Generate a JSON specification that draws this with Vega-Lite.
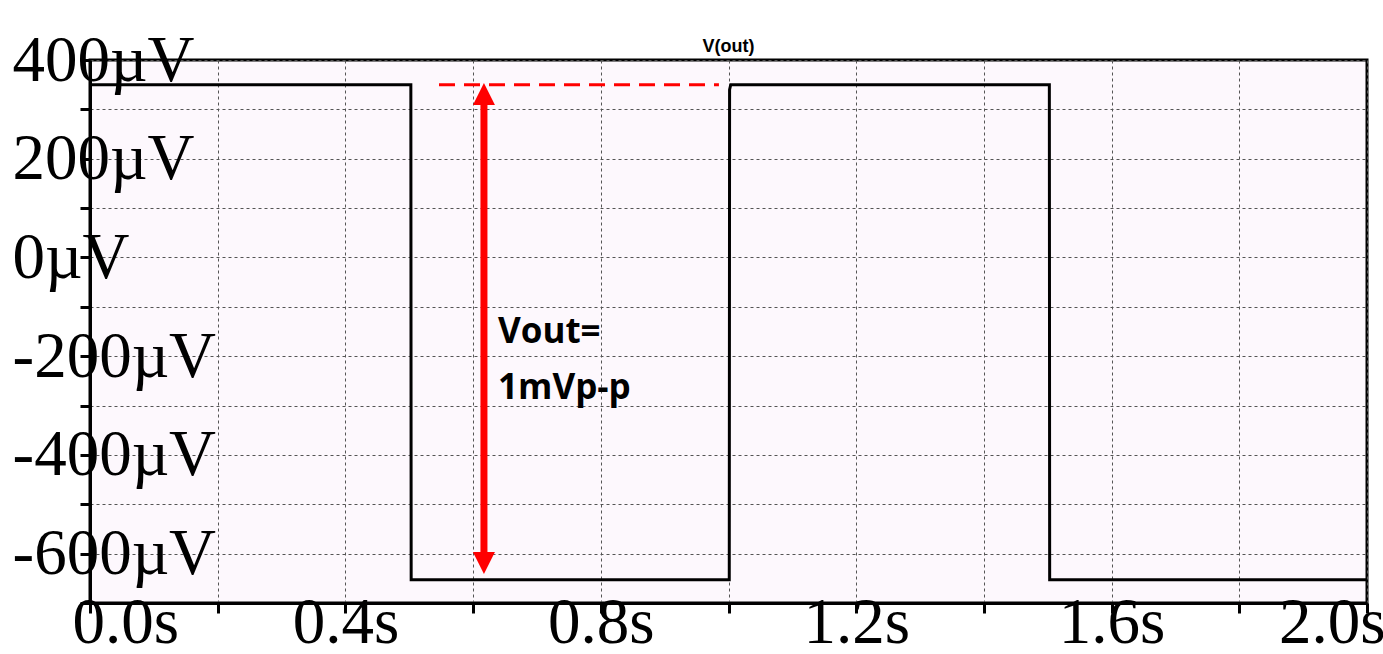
{
  "$schema": "https://vega.github.io/schema/vega-lite/v6.json",
  "width": 1277,
  "height": 543,
  "autosize": {"type": "none"},
  "padding": {"left": 90, "top": 60, "right": 16, "bottom": 51},
  "background": "#ffffff",
  "config": {
    "view": {"stroke": "#000000", "strokeWidth": 3, "fill": "#fdf8fd"}
  },
  "title": {
    "text": "V(out)",
    "font": "Liberation Sans",
    "fontWeight": "bold",
    "fontSize": 18,
    "color": "#000000",
    "anchor": "middle",
    "offset": -28
  },
  "datasets": {
    "trace": [
      {"t": 0.0, "v": 350},
      {"t": 0.5025, "v": 350},
      {"t": 0.503, "v": -653},
      {"t": 1.0012, "v": -653},
      {"t": 1.0017, "v": 340},
      {"t": 1.0035, "v": 350},
      {"t": 1.5025, "v": 350},
      {"t": 1.503, "v": -653},
      {"t": 2.0, "v": -653}
    ],
    "dash": [{"t1": 0.5466, "t2": 0.985, "v": 350}],
    "arrow": [{"t": 0.617, "vtop": 331, "vbot": -619}],
    "heads": [
      {"t": 0.617, "v": 331, "dir": "up"},
      {"t": 0.617, "v": -619, "dir": "down"}
    ],
    "labels": [
      {"t": 0.639, "v": -172.7, "txt": "Vout="},
      {"t": 0.639, "v": -286.8, "txt": "1mVp-p"}
    ]
  },
  "layer": [
    {
      "data": {"name": "trace"},
      "mark": {"type": "line", "color": "#000000", "strokeWidth": 3, "strokeJoin": "miter"},
      "encoding": {
        "x": {
          "field": "t",
          "type": "quantitative",
          "scale": {"domain": [0, 2], "nice": false, "zero": false},
          "axis": {
            "title": null,
            "values": [0, 0.2, 0.4, 0.6, 0.8, 1.0, 1.2, 1.4, 1.6, 1.8, 2.0],
            "labelExpr": "round(datum.value*10)%4==0 ? format(datum.value,'.1f')+'s' : ''",
            "grid": true,
            "gridDash": [3, 3],
            "gridColor": "#555555",
            "gridWidth": 1,
            "gridOpacity": 1,
            "domain": true,
            "domainColor": "#000000",
            "domainWidth": 3,
            "ticks": true,
            "tickSize": 10,
            "tickWidth": 3,
            "tickColor": "#000000",
            "labelFont": "Liberation Serif",
            "labelFontSize": 65,
            "labelColor": "#000000",
            "labelBaseline": "alphabetic",
            "labelPadding": 29,
            "labelFlush": true,
            "labelFlushOffset": 18,
            "labelOverlap": false,
            "labelLimit": 400
          }
        },
        "y": {
          "field": "v",
          "type": "quantitative",
          "scale": {"domain": [-700, 400], "nice": false, "zero": false},
          "axis": {
            "title": null,
            "values": [-700, -600, -500, -400, -300, -200, -100, 0, 100, 200, 300, 400],
            "labelExpr": "datum.value % 200 == 0 ? datum.value + 'µV' : ''",
            "grid": true,
            "gridDash": [3, 3],
            "gridColor": "#555555",
            "gridWidth": 1,
            "gridOpacity": 1,
            "domain": true,
            "domainColor": "#000000",
            "domainWidth": 3,
            "ticks": true,
            "tickSize": 10,
            "tickWidth": 3,
            "tickColor": "#000000",
            "labelFont": "Liberation Serif",
            "labelFontSize": 65,
            "labelColor": "#000000",
            "labelAlign": "left",
            "labelBaseline": "middle",
            "labelPadding": 68,
            "labelFlush": false,
            "labelOverlap": false,
            "labelLimit": 400
          }
        }
      }
    },
    {
      "data": {"name": "dash"},
      "mark": {"type": "rule", "color": "#ff0000", "strokeWidth": 3, "strokeDash": [16, 9]},
      "encoding": {
        "x": {"field": "t1", "type": "quantitative"},
        "x2": {"field": "t2"},
        "y": {"field": "v", "type": "quantitative"}
      }
    },
    {
      "data": {"name": "arrow"},
      "mark": {"type": "rule", "color": "#ff0000", "strokeWidth": 7},
      "encoding": {
        "x": {"field": "t", "type": "quantitative"},
        "y": {"field": "vtop", "type": "quantitative"},
        "y2": {"field": "vbot"}
      }
    },
    {
      "data": {"name": "heads"},
      "transform": [{"filter": "datum.dir == 'up'"}],
      "mark": {"type": "point", "shape": "M0,-1L1,1L-1,1Z", "filled": true, "color": "#ff0000", "size": 484, "opacity": 1, "strokeWidth": 0},
      "encoding": {
        "x": {"field": "t", "type": "quantitative"},
        "y": {"field": "v", "type": "quantitative"}
      }
    },
    {
      "data": {"name": "heads"},
      "transform": [{"filter": "datum.dir == 'down'"}],
      "mark": {"type": "point", "shape": "M0,1L1,-1L-1,-1Z", "filled": true, "color": "#ff0000", "size": 484, "opacity": 1, "strokeWidth": 0},
      "encoding": {
        "x": {"field": "t", "type": "quantitative"},
        "y": {"field": "v", "type": "quantitative"}
      }
    },
    {
      "data": {"name": "labels"},
      "mark": {"type": "text", "align": "left", "baseline": "alphabetic", "font": "Open Sans", "fontWeight": "bold", "fontSize": 35, "color": "#000000"},
      "encoding": {
        "x": {"field": "t", "type": "quantitative"},
        "y": {"field": "v", "type": "quantitative"},
        "text": {"field": "txt"}
      }
    }
  ]
}
